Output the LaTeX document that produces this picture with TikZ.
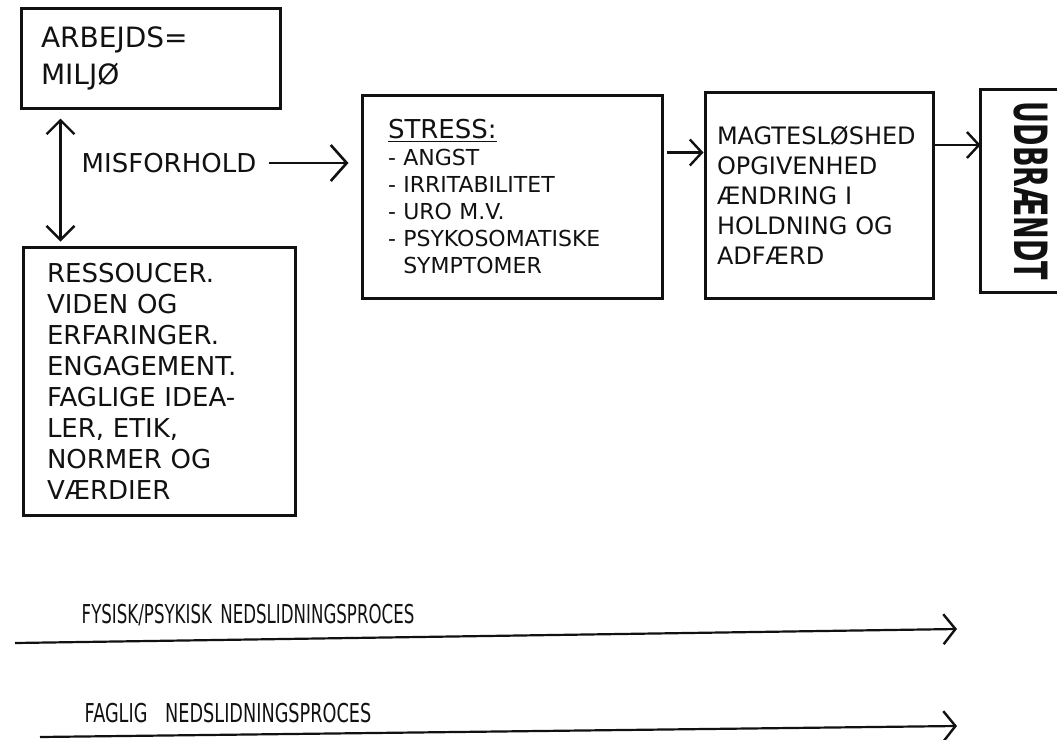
\documentclass[tikz,border=0pt]{standalone}
\usepackage{fontspec}
\setmainfont{DejaVu Sans}
\usepackage{graphicx}
\usetikzlibrary{arrows.meta, positioning}
\definecolor{Ink}{HTML}{111111}
\tikzset{
  box/.style={draw=Ink, line width=1.5pt, align=left, text=Ink, inner ysep=2pt},
  frame/.style={line width=1.5pt, color=Ink},
  flow/.style={-{Straight Barb[length=6pt, width=13pt, line width=1.2pt]}, line width=1.1pt, color=Ink},
  bigflow/.style={-{Straight Barb[length=8pt, width=18pt, line width=1.3pt]}, line width=1.1pt, color=Ink},
  twoway/.style={{Straight Barb[length=7pt, width=14pt, line width=1.2pt]}-{Straight Barb[length=7pt, width=14pt, line width=1.2pt]}, line width=1.1pt, color=Ink},
  label/.style={color=Ink, inner sep=0pt},
}

\begin{document}
\begin{tikzpicture}[x=0.5pt, y=-0.5pt]
  \useasboundingbox (0,0) rectangle (1057,740);

  % Work environment and resources
  \node[box, minimum width=129.5pt, minimum height=50pt, inner xsep=10pt, text width=109.5pt,
        font=\fontsize{14}{18.5}\selectfont] (arbejd) at (150.5,58) {ARBEJDS=\\MILJØ};
  \node[box, minimum width=136pt, minimum height=134pt, inner xsep=12pt, text width=112pt,
        font=\fontsize{13}{15.5}\selectfont] (ressource) at (159,381)
        {RESSOUCER.\\VIDEN OG\\ERFARINGER.\\ENGAGEMENT.\\FAGLIGE IDEA-\\LER, ETIK,\\NORMER OG\\VÆRDIER};

  % Mismatch
  \draw[twoway] ([xshift=20.5pt,yshift=-4.5pt]arbejd.south west) -- ([xshift=19.5pt,yshift=2pt]ressource.north west);
  \node[label, font=\fontsize{13}{15}\selectfont] (misforhold) at (169,163) {MISFORHOLD};

  % Stress and reactions
  \node[box, minimum width=150pt, minimum height=101.5pt, inner xsep=13pt, text width=124pt,
        font=\fontsize{11}{13.5}\selectfont] (stress) at (512,196.5)
        {\underline{\fontsize{13}{15}\selectfont STRESS:}\\- ANGST\\- IRRITABILITET\\- URO M.V.\\- PSYKOSOMATISKE\\\phantom{- }SYMPTOMER};
  \node[box, minimum width=114pt, minimum height=103pt, inner xsep=6pt, text width=102pt,
        font=\fontsize{12}{15}\selectfont] (afmagt) at (819,195)
        {MAGTESLØSHED\\OPGIVENHED\\ÆNDRING I\\HOLDNING OG\\ADFÆRD};
  \node[minimum width=38pt, minimum height=101.5pt, inner sep=0pt, text=Ink,
        font=\fontsize{13.5}{15}\selectfont\bfseries] (udbraendt) at (1019,191)
        {\hspace*{12pt}\rotatebox{-90}{\scalebox{1}[1.7]{UDBRÆNDT}}};
  \draw[frame] (udbraendt.north east) -- (udbraendt.north west) -- (udbraendt.south west) -- (udbraendt.south east);

  % Arrows between the stages
  \draw[bigflow, shorten <=6pt, shorten >=6pt] (misforhold.east) -- (misforhold.east -| stress.west);
  \coordinate (s1) at ([yshift=22pt]stress.east);
  \draw[flow, shorten <=1.5pt] (s1) -- (s1 -| afmagt.west);
  \coordinate (s2) at ([yshift=25pt]afmagt.east);
  \draw[flow] (s2) -- (s2 -| udbraendt.west);

  % Wear-down processes
  \coordinate (fa) at (15,643);
  \coordinate (fb) at (957,629);
  \draw[flow, -{Straight Barb[length=6pt, width=15pt, line width=1.2pt]}] (fa) -- (fb);
  \node[label, font=\fontsize{13}{15}\selectfont] (fysisk) at (248,615)
        {\scalebox{0.64}[1]{FYSISK/PSYKISK\enspace NEDSLIDNINGSPROCES}};

  \coordinate (ga) at (40,737);
  \coordinate (gb) at (957,726);
  \draw[flow, -{Straight Barb[length=6pt, width=15pt, line width=1.2pt]}] (ga) -- (gb);
  \node[label, font=\fontsize{13}{15}\selectfont] (faglig) at (228,713)
        {\scalebox{0.68}[1]{FAGLIG\quad NEDSLIDNINGSPROCES}};
\end{tikzpicture}
\end{document}
